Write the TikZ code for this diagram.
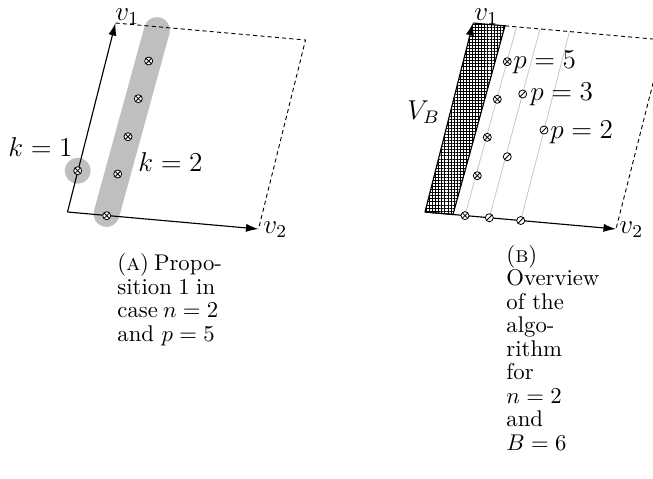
\documentclass[tikz,border=0pt]{standalone}
\usetikzlibrary{arrows.meta,patterns.meta}
\begin{document}
\begin{tikzpicture}[x=0.44pt,y=-0.44pt,
  ax/.style={line width=0.5pt,-{Latex[length=5.5pt,width=3.6pt]}},
  dsh/.style={line width=0.4pt,dash pattern=on 1.8pt off 1.4pt},
  mk/.style={line width=0.35pt},
  blob/.style={black!25},
  faint/.style={black!22,line width=0.35pt},
  lbl/.style={font=\fontsize{11.5}{13}\selectfont,inner sep=0pt,anchor=base west},
  captxt/.style={font=\fontsize{10}{10.34}\selectfont,inner sep=0pt,align=left,anchor=base west},
  otm/.pic={\draw[mk,fill=white] (0,0) circle[radius=4];
            \draw[mk] (-2.8,-2.8)--(2.8,2.8) (-2.8,2.8)--(2.8,-2.8);},
  osl/.pic={\draw[mk,fill=white] (0,0) circle[radius=4];
            \draw[mk] (-2.8,2.8)--(2.8,-2.8);}]
\useasboundingbox (0,0) rectangle (653,478);
\clip (0,0) rectangle (653,478);

% ---------------- left diagram ----------------
\coordinate (LO) at (67.5,212);
\coordinate (Lv1) at (115.5,23);
\coordinate (Lv2) at (258.5,229);
\coordinate (Lc) at (305.5,40);
\coordinate (Lk1) at (77.7,170.7);
\coordinate (Lb1) at (106.5,214);
\coordinate (Lb2) at (157,30);

\fill[blob] (Lk1) circle[radius=13];
\draw[blob,line width=11.4pt,line cap=round] (Lb1) -- (Lb2);

\draw[ax] (LO) -- (Lv1);
\draw[ax] (LO) -- (Lv2);
\draw[dsh] (Lv1) -- (Lc) -- (Lv2);

\pic at (Lk1) {otm};
\pic at (106.7,215.7) {otm};
\pic at (117.7,174) {otm};
\pic at (128,136.7) {otm};
\pic at (138.3,98.7) {otm};
\pic at (148.7,61) {otm};

\node[lbl] (lv1) at (115,20.5) {$v_1$};
\node[lbl] (lv2) at (263,233) {$v_2$};
\node[lbl] (k1) at (8,156) {$k=1$};
\node[lbl] (k2) at (138,171.5) {$k=2$};

\node[captxt] (capA) at (117,341) {\makebox[43pt][s]{(\textsc{a}) Propo-}\\
  \makebox[43pt][s]{sition 1 in}\\
  \makebox[43pt][s]{case $n=2$}\\
  and $p=5$};

% ---------------- right diagram ----------------
\coordinate (RO) at (425,212);
\coordinate (Rv1) at (473,23);
\coordinate (Rv2) at (616,229);
\coordinate (Rc) at (664,40);
\coordinate (Rh1) at (505,25.8);
\coordinate (Rh2) at (453,214.5);

\fill[pattern={Lines[angle=0,distance=1.35pt,line width=0.35pt]}] (RO) -- (Rv1) -- (Rh1) -- (Rh2) -- cycle;
\fill[pattern={Lines[angle=90,distance=1.35pt,line width=0.35pt]}] (RO) -- (Rv1) -- (Rh1) -- (Rh2) -- cycle;
\draw[line width=0.5pt] (Rv1) -- (Rh1) -- (Rh2) -- (RO);

\coordinate (g1b) at (465,215.6);
\coordinate (g1t) at (516.5,26.9);
\coordinate (g2b) at (489.3,217.7);
\coordinate (g2t) at (540,29);
\coordinate (g3b) at (520.7,220.5);
\coordinate (g3t) at (569.5,31.6);
\draw[faint] (g1b) -- (g1t);
\draw[faint] (g2b) -- (g2t);
\draw[faint] (g3b) -- (g3t);

\draw[ax] (RO) -- (Rv1);
\draw[ax] (RO) -- (Rv2);
\draw[dsh] (Rh1) -- (Rc) -- (Rv2);

\pic at (g1b) {otm};
\pic at (477.3,175.7) {otm};
\pic at (487.3,137.3) {otm};
\pic at (497.3,99.3) {otm};
\pic at (507.3,61.7) {otm};
\pic at (g2b) {osl};
\pic at (507.3,156.7) {osl};
\pic at (522.7,94) {osl};
\pic at (g3b) {osl};
\pic at (544,130) {osl};

\node[lbl] (rv1) at (474,20) {$v_1$};
\node[lbl] (rv2) at (619,233) {$v_2$};
\node[lbl] (vb) at (407,119.5) {$V_B$};
\node[lbl] (p5) at (513,68.3) {$p=5$};
\node[lbl] (p3) at (530,100.7) {$p=3$};
\node[lbl] (p2) at (550,138.3) {$p=2$};

\node[captxt] (capB) at (506,450) {(\textsc{b})\\ Overview\\ of the\\ algo-\\ rithm\\ for\\ $n=2$\\ and\\ $B=6$};
\end{tikzpicture}
\end{document}
